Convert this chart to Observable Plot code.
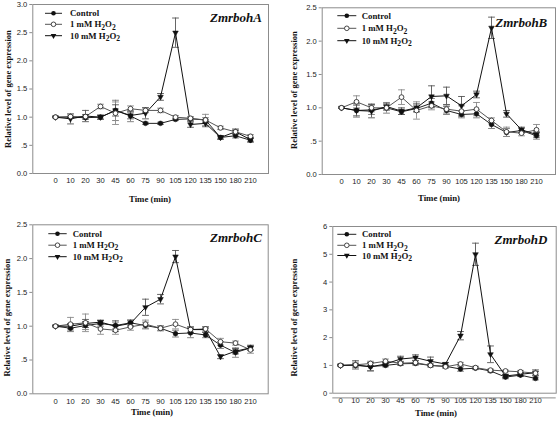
<!DOCTYPE html>
<html><head><meta charset="utf-8">
<script src="https://cdn.jsdelivr.net/npm/d3@7"></script>
<script src="https://cdn.jsdelivr.net/npm/@observablehq/plot@0.6"></script>
<style>
html,body{margin:0;padding:0;background:#fff;}
#chart{position:relative;width:558px;height:422px;overflow:hidden;background:#fff;}
#chart svg{position:absolute;}
</style></head><body><div id="chart"></div>
<script>
// ---- data ----
const times = ["0","10","20","30","45","60","75","90","105","120","135","150","180","210"];
const seriesKeys = ["control","low","high"];
const genes = ["ZmrbohA","ZmrbohB","ZmrbohC","ZmrbohD"];
const xTitle = "Time (min)";
const yTitle = "Relative level of gene expression";

const aControl = [1.0,1.0,0.99,1.0,1.12,1.02,0.89,0.89,0.96,0.97,0.95,0.64,0.67,0.59];
const aLow     = [1.0,1.01,1.01,1.19,1.07,1.15,1.12,1.12,1.0,0.98,0.95,0.81,0.74,0.66];
const aHigh    = [1.0,0.97,1.02,1.0,1.12,1.03,1.07,1.36,2.5,0.87,0.89,0.64,0.74,0.6];
const aControlErr = [0.01,0.02,0.03,0.03,0.18,0.1,0.02,0.02,0.02,0.03,0.04,0.03,0.04,0.03];
const aLowErr     = [0.01,0.03,0.03,0.04,0.2,0.05,0.04,0.04,0.03,0.03,0.1,0.03,0.03,0.03];
const aHighErr    = [0.01,0.09,0.1,0.04,0.1,0.06,0.1,0.06,0.26,0.05,0.06,0.03,0.05,0.04];

const bControl = [1.0,0.96,0.97,1.0,0.94,0.99,1.07,0.96,0.9,0.91,0.75,0.63,0.66,0.58];
const bLow     = [1.0,1.09,1.0,1.0,1.16,0.96,1.03,0.98,0.95,0.98,0.81,0.64,0.62,0.67];
const bHigh    = [1.0,0.96,0.95,1.02,0.95,1.0,1.17,1.18,1.03,1.2,2.2,0.91,0.67,0.6];
const bControlErr = [0.01,0.1,0.07,0.08,0.04,0.05,0.07,0.06,0.05,0.06,0.06,0.06,0.04,0.05];
const bLowErr     = [0.01,0.09,0.06,0.04,0.11,0.13,0.06,0.06,0.08,0.1,0.04,0.07,0.04,0.08];
const bHighErr    = [0.01,0.08,0.1,0.04,0.05,0.06,0.16,0.13,0.14,0.05,0.16,0.05,0.04,0.04];

const cControl = [1.0,0.97,1.01,1.04,1.01,1.05,1.01,0.97,0.89,0.9,0.87,0.72,0.61,0.68];
const cLow     = [1.0,1.03,1.05,0.96,0.94,0.99,1.03,0.97,1.03,0.95,0.96,0.77,0.75,0.65];
const cHigh    = [1.0,1.0,1.04,1.06,1.0,1.04,1.28,1.4,2.03,0.95,0.95,0.55,0.63,0.68];
const cControlErr = [0.01,0.05,0.06,0.04,0.05,0.04,0.05,0.03,0.05,0.07,0.04,0.05,0.07,0.04];
const cLowErr     = [0.01,0.1,0.13,0.08,0.06,0.05,0.06,0.04,0.07,0.04,0.03,0.05,0.03,0.05];
const cHighErr    = [0.01,0.04,0.06,0.03,0.08,0.05,0.12,0.07,0.09,0.04,0.04,0.03,0.04,0.03];

const dControl = [1.0,1.0,0.96,1.0,1.06,1.07,1.0,0.97,0.87,0.9,0.8,0.58,0.65,0.53];
const dLow     = [1.0,1.02,1.07,1.15,1.08,1.1,1.0,0.95,1.05,0.92,0.83,0.8,0.77,0.72];
const dHigh    = [1.0,1.02,0.95,1.05,1.23,1.28,1.15,1.05,2.07,5.0,1.4,0.62,0.68,0.74];
const dControlErr = [0.02,0.05,0.15,0.05,0.05,0.05,0.05,0.05,0.08,0.05,0.04,0.06,0.05,0.05];
const dLowErr     = [0.02,0.1,0.08,0.08,0.07,0.08,0.05,0.05,0.06,0.05,0.04,0.03,0.05,0.06];
const dHighErr    = [0.02,0.15,0.15,0.06,0.1,0.1,0.15,0.05,0.15,0.4,0.3,0.06,0.06,0.1];

const yTicksA  = [0,0.5,1,1.5,2,2.5,3];
const yLabelsA = ["0.0",".5","1.0","1.5","2.0","2.5","3.0"];
const yTicksB  = [0,0.5,1,1.5,2,2.5];
const yLabelsB = ["0.0",".5","1.0","1.5","2.0","2.5"];
const yTicksD  = [0,1,2,3,4,5,6];
const yLabelsD = ["0","1","2","3","4","5","6"];

// ---- styles ----
const SERIF = "'Liberation Serif','Times New Roman',serif";
const SANS = "'Liberation Sans',Arial,sans-serif";
const lineColor = {control:"#222", low:"#555", high:"#111"};
const errColor = {control:"#777", low:"#8a8a8a", high:"#555"};
const frameColor = "#8c8c8c";

const panels = [
  {gene:genes[0], vals:[aControl,aLow,aHigh], errs:[aControlErr,aLowErr,aHighErr], yTicks:yTicksA, yLabels:yLabelsA, yMax:3,
   left:0, top:0, m:{t:4,r:11,b:38,l:32.3}, pad:0.945, align:0.57,
   legend:{x1:45,x2:62,tx:70,ys:[13.3,24.3,35.7]}, title:{x:262,y:17}, yt:{x:8.3,y:89}, xt:{x:150,y:199}},
  {gene:genes[1], vals:[bControl,bLow,bHigh], errs:[bControlErr,bLowErr,bHighErr], yTicks:yTicksB, yLabels:yLabelsB, yMax:2.5,
   left:279, top:0, m:{t:7.3,r:3,b:37,l:42.7}, pad:1.045, align:0.51,
   legend:{x1:58.3,x2:77.3,tx:82.7,ys:[15.7,28.3,40.7]}, title:{x:268.3,y:22.7}, yt:{x:15,y:90}, xt:{x:160,y:198.3}},
  {gene:genes[2], vals:[cControl,cLow,cHigh], errs:[cControlErr,cLowErr,cHighErr], yTicks:yTicksB, yLabels:yLabelsB, yMax:2.5,
   left:0, top:211, m:{t:13.3,r:11.3,b:28.7,l:32.3}, pad:0.945, align:0.57,
   legend:{x1:48.3,x2:66.7,tx:72.7,ys:[22.7,34.2,45.7]}, title:{x:262,y:26.7}, yt:{x:7,y:106.7}, xt:{x:152,y:200.7}},
  {gene:genes[3], vals:[dControl,dLow,dHigh], errs:[dControlErr,dLowErr,dHighErr], yTicks:yTicksD, yLabels:yLabelsD, yMax:6,
   left:279, top:211, m:{t:15,r:2.3,b:29.3,l:53.3}, pad:0.725, align:0.27,
   legend:{x1:58.3,x2:77.3,tx:83,ys:[23.3,34.3,44.5]}, title:{x:268.3,y:28.3}, yt:{x:15,y:106.7}, xt:{x:157,y:201.7}, base:true}
];

const capSymbol = {draw(ctx, size){ const w = Math.sqrt(size/Math.PI); ctx.moveTo(-w,0); ctx.lineTo(w,0); }};

const root = document.getElementById("chart");

panels.forEach(p => {
  const rows = [];
  seriesKeys.forEach((k, si) => times.forEach((t, i) => rows.push({time:t, v:p.vals[si][i], e:p.errs[si][i], key:k})));
  const of = k => rows.filter(d => d.key === k);
  const marks = [
    Plot.frame({stroke:frameColor, strokeWidth:1}),
    Plot.axisY({ticks:p.yTicks, tickFormat:d => p.yLabels[p.yTicks.indexOf(d)], tickSize:3, tickPadding:2.5, label:null, stroke:frameColor}),
    Plot.axisX({tickSize:0, tickPadding:4.5, label:null}),
  ];
  if (p.base) marks.push(Plot.ruleY([0], {dy:4.7, stroke:frameColor, strokeWidth:1}));
  seriesKeys.forEach(k => {
    marks.push(Plot.ruleX(of(k), {x:"time", y1:d=>d.v-d.e, y2:d=>d.v+d.e, stroke:errColor[k], strokeWidth:0.9}));
    marks.push(Plot.dot(of(k), {x:"time", y:d=>d.v+d.e, symbol:capSymbol, r:3.4, stroke:errColor[k], strokeWidth:0.9}));
    marks.push(Plot.dot(of(k), {x:"time", y:d=>d.v-d.e, symbol:capSymbol, r:3.4, stroke:errColor[k], strokeWidth:0.9}));
  });
  seriesKeys.forEach(k => marks.push(Plot.line(of(k), {x:"time", y:"v", stroke:lineColor[k], strokeWidth:1})));
  marks.push(Plot.dot(of("control"), {x:"time", y:"v", r:2.4, fill:"#111", stroke:"#111", strokeWidth:0.5}));
  marks.push(Plot.dot(of("high"), {x:"time", y:"v", symbol:"triangle", rotate:180, r:2.1, fill:"#111", stroke:"#111", strokeWidth:0.5}));
  marks.push(Plot.dot(of("low"), {x:"time", y:"v", r:2.4, fill:"#fff", stroke:"#333", strokeWidth:0.9}));

  const svg = Plot.plot({
    width:279, height:211,
    marginTop:p.m.t, marginRight:p.m.r, marginBottom:p.m.b, marginLeft:p.m.l,
    style:{fontFamily:SANS, fontSize:"7.6px", color:"#222", background:"transparent", overflow:"visible"},
    x:{type:"point", domain:times, padding:p.pad, align:p.align},
    y:{domain:[0,p.yMax]},
    marks
  });
  svg.style.left = p.left + "px";
  svg.style.top = p.top + "px";
  root.appendChild(svg);

  const g = d3.select(svg).append("g").attr("text-anchor","start");
  // gene title
  g.append("text").attr("x", p.title.x).attr("y", p.title.y).attr("text-anchor","end").attr("dominant-baseline","central")
    .style("font", `italic bold 13px ${SERIF}`).attr("fill","#111").text(p.gene);
  // y title
  g.append("text").attr("transform", `translate(${p.yt.x},${p.yt.y}) rotate(-90)`).attr("text-anchor","middle")
    .attr("dominant-baseline","central").style("font", `bold 8.6px ${SERIF}`).attr("fill","#111").text(yTitle);
  // x title
  g.append("text").attr("x", p.xt.x).attr("y", p.xt.y).attr("text-anchor","middle").attr("dominant-baseline","central")
    .style("font", `bold 8.8px ${SERIF}`).attr("fill","#111").text(xTitle);
  // legend
  const L = p.legend;
  seriesKeys.forEach((k, i) => {
    const y = L.ys[i];
    g.append("line").attr("x1", L.x1).attr("x2", L.x2).attr("y1", y).attr("y2", y).attr("stroke", lineColor[k]).attr("stroke-width", 1);
    const cx = (L.x1 + L.x2) / 2;
    if (k === "control") g.append("circle").attr("cx", cx).attr("cy", y).attr("r", 2.3).attr("fill", "#111");
    else if (k === "low") g.append("circle").attr("cx", cx).attr("cy", y).attr("r", 2.3).attr("fill", "#fff").attr("stroke", "#333").attr("stroke-width", 0.9);
    else g.append("path").attr("d", d3.symbol(d3.symbolTriangle, Math.PI * 2.1 * 2.1)()).attr("transform", `translate(${cx},${y}) rotate(180)`).attr("fill", "#111");
    const t = g.append("text").attr("x", L.tx).attr("y", y).attr("text-anchor","start").attr("dominant-baseline","central")
      .style("font", `bold 8.8px ${SERIF}`).attr("fill","#111");
    if (k === "control") t.text("Control");
    else {
      t.append("tspan").text(k === "low" ? "1 mM H" : "10 mM H");
      t.append("tspan").attr("dy", 2.2).style("font-size","7.6px").text("2");
      t.append("tspan").attr("dy", -2.2).text("O");
      t.append("tspan").attr("dy", 2.2).style("font-size","7.6px").text("2");
    }
  });
});
</script></body></html>
